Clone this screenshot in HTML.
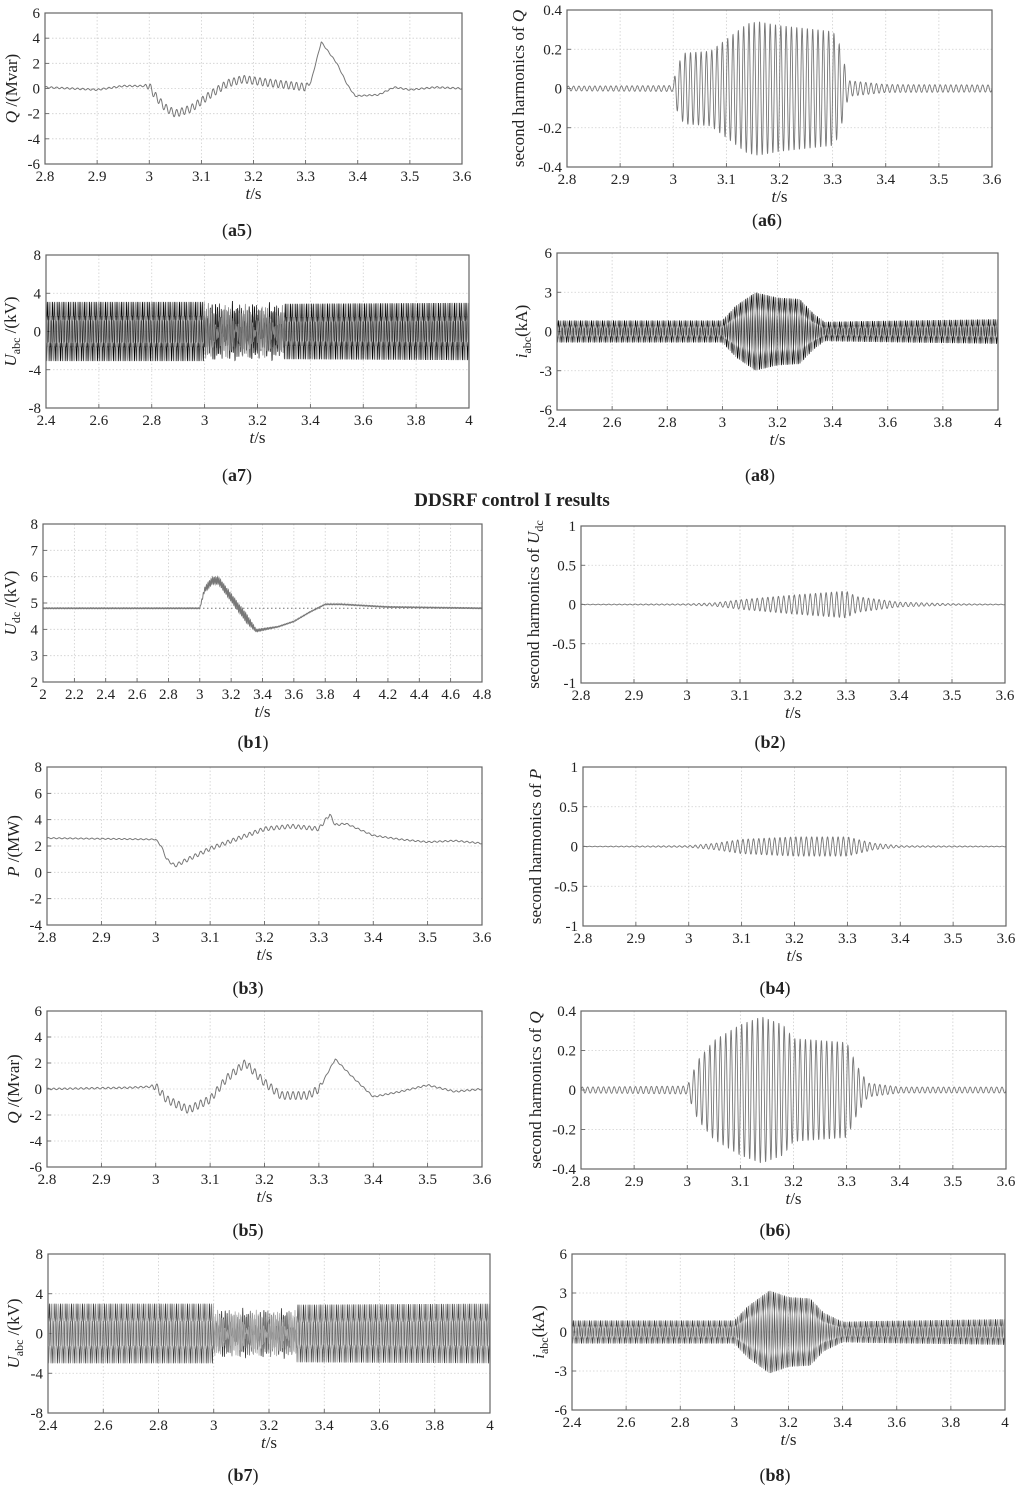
<!DOCTYPE html>
<html><head><meta charset="utf-8"><style>
html,body{margin:0;padding:0;background:#fff;}
svg{display:block;}
text{font-family:"Liberation Serif",serif;fill:#222;}
.tk{font-size:15px;}
.ax{font-size:17px;}
.pl{font-size:18px;}
</style></head><body>
<svg id="fig" width="1024" height="1490" viewBox="0 0 1024 1490" xmlns="http://www.w3.org/2000/svg">
<text x="512" y="506" text-anchor="middle" style="font-size:19px;font-weight:bold">DDSRF control I results</text>
</svg>
<script>
// ---------- data ----------
const tQ = [2.8,2.9,3.0,3.1,3.2,3.3,3.4,3.5,3.6];
const tQLabels = ["2.8","2.9","3","3.1","3.2","3.3","3.4","3.5","3.6"];
const tV = [2.4,2.6,2.8,3.0,3.2,3.4,3.6,3.8,4.0];
const tVLabels = ["2.4","2.6","2.8","3","3.2","3.4","3.6","3.8","4"];
const tB1 = [2,2.2,2.4,2.6,2.8,3,3.2,3.4,3.6,3.8,4,4.2,4.4,4.6,4.8];
const tB1Labels = ["2","2.2","2.4","2.6","2.8","3","3.2","3.4","3.6","3.8","4","4.2","4.4","4.6","4.8"];
const yQ = [-6,-4,-2,0,2,4,6];
const yQLabels = ["-6","-4","-2","0","2","4","6"];
const yH4 = [-0.4,-0.2,0,0.2,0.4];
const yH4Labels = ["-0.4","-0.2","0","0.2","0.4"];
const yU = [-8,-4,0,4,8];
const yULabels = ["-8","-4","0","4","8"];
const yI = [-6,-3,0,3,6];
const yILabels = ["-6","-3","0","3","6"];
const yUdc = [2,3,4,5,6,7,8];
const yUdcLabels = ["2","3","4","5","6","7","8"];
const yH1 = [-1,-0.5,0,0.5,1];
const yH1Labels = ["-1","-0.5","0","0.5","1"];
const yP = [-4,-2,0,2,4,6,8];
const yPLabels = ["-4","-2","0","2","4","6","8"];

// a5: Q
const a5BaseT = [2.8,2.85,2.9,2.95,3.0,3.01,3.03,3.05,3.08,3.12,3.15,3.18,3.22,3.26,3.3,3.31,3.33,3.36,3.38,3.395,3.44,3.47,3.5,3.55,3.6];
const a5BaseV = [0.1,0.0,-0.1,0.2,0.2,-0.5,-1.5,-2.0,-1.6,-0.4,0.4,0.75,0.5,0.3,0.1,0.5,3.7,2.0,0.3,-0.6,-0.5,0.1,-0.1,0.1,0.0];
const a5RipT = [2.8,2.99,3.0,3.3,3.31,3.6];
const a5RipV = [0.06,0.06,0.3,0.3,0.04,0.06];
// a6
const a6EnvT = [2.8,3.0,3.005,3.02,3.07,3.1,3.14,3.16,3.2,3.3,3.31,3.32,3.33,3.4,3.6];
const a6EnvV = [0.012,0.015,0.1,0.18,0.19,0.25,0.33,0.34,0.32,0.29,0.25,0.15,0.04,0.02,0.018];
// a7
const a7T = [2.4,2.999,3.0,3.3,3.301,4.0];
const a7Pos = [2.4,2.4,0.3,0.3,2.2,2.3];
const a7Osc = [0,0,2.6,2.4,0,0];
const a7Har = [0.7,0.7,0.4,0.4,0.7,0.7];
// a8
const a8EnvT = [2.4,3.0,3.05,3.12,3.2,3.28,3.33,3.37,3.5,4.0];
const a8EnvV = [0.65,0.65,1.8,2.8,2.4,2.3,1.2,0.55,0.6,0.75];
// b1
const b1BaseT = [2.0,3.0,3.03,3.08,3.12,3.2,3.3,3.36,3.5,3.6,3.7,3.8,3.9,4.2,4.8];
const b1BaseV = [4.8,4.8,5.5,5.85,5.85,5.2,4.4,3.95,4.1,4.3,4.65,4.95,4.95,4.85,4.8];
const b1RipT = [2.0,3.0,3.05,3.3,3.36,3.5,4.8];
const b1RipV = [0.02,0.02,0.12,0.17,0.05,0.02,0.02];
const b1Ref = 4.8;
// b2
const b2EnvT = [2.8,3.0,3.05,3.1,3.2,3.3,3.32,3.4,3.5,3.6];
const b2EnvV = [0.004,0.008,0.02,0.06,0.12,0.17,0.1,0.03,0.01,0.004];
// b3
const b3BaseT = [2.8,3.0,3.01,3.02,3.035,3.05,3.1,3.2,3.25,3.3,3.32,3.33,3.35,3.4,3.45,3.5,3.55,3.6];
const b3BaseV = [2.6,2.5,2.0,1.0,0.5,0.8,1.8,3.3,3.5,3.3,4.4,3.6,3.7,2.8,2.5,2.3,2.4,2.2];
const b3RipT = [2.8,3.0,3.05,3.3,3.35,3.6];
const b3RipV = [0.04,0.04,0.15,0.15,0.05,0.05];
// b4
const b4EnvT = [2.8,3.0,3.05,3.1,3.2,3.3,3.35,3.4,3.6];
const b4EnvV = [0.003,0.01,0.04,0.09,0.12,0.12,0.04,0.01,0.004];
// b5
const b5BaseT = [2.8,2.95,3.0,3.02,3.06,3.1,3.13,3.165,3.2,3.23,3.28,3.3,3.33,3.36,3.4,3.45,3.5,3.55,3.6];
const b5BaseV = [0.0,0.1,0.2,-0.8,-1.6,-0.8,0.8,2.0,0.5,-0.5,-0.5,0.0,2.3,1.0,-0.6,-0.2,0.3,-0.2,0.0];
const b5RipT = [2.8,2.99,3.0,3.3,3.31,3.6];
const b5RipV = [0.06,0.06,0.3,0.3,0.05,0.06];
// b6
const b6EnvT = [2.8,3.0,3.02,3.05,3.1,3.14,3.18,3.2,3.3,3.32,3.34,3.4,3.6];
const b6EnvV = [0.015,0.02,0.15,0.25,0.33,0.37,0.33,0.26,0.24,0.12,0.035,0.015,0.015];
// b7
const b7T = [2.4,2.999,3.0,3.3,3.301,4.0];
const b7Pos = [2.4,2.4,0.2,0.2,2.3,2.4];
const b7Osc = [0,0,2.1,2.1,0,0];
const b7Har = [0.6,0.6,0.3,0.3,0.6,0.6];
// b8
const b8EnvT = [2.4,3.0,3.05,3.13,3.2,3.28,3.33,3.4,3.5,4.0];
const b8EnvV = [0.7,0.7,1.8,3.0,2.5,2.4,1.3,0.6,0.65,0.8];

// ---------- helpers ----------
const NS = 'http://www.w3.org/2000/svg';
const svg = document.getElementById('fig');
function mk(tag, attrs, parent){
  const e = document.createElementNS(NS, tag);
  for (const k in attrs) e.setAttribute(k, attrs[k]);
  (parent||svg).appendChild(e);
  return e;
}
function interp(ts, vs, t){
  if (t <= ts[0]) return vs[0];
  for (let i=1;i<ts.length;i++){
    if (t <= ts[i]){ const f=(t-ts[i-1])/(ts[i]-ts[i-1]); return vs[i-1]+f*(vs[i]-vs[i-1]); }
  }
  return vs[vs.length-1];
}
function scales(p){
  const sx = v => p.x0 + (v-p.xd[0])/(p.xd[1]-p.xd[0])*(p.x1-p.x0);
  const sy = v => p.y1 - (v-p.yd[0])/(p.yd[1]-p.yd[0])*(p.y1-p.y0);
  return [sx, sy];
}
let clipN = 0;
function panel(p){
  const g = mk('g', {});
  
  
  const [sx, sy] = scales(p);
  p.xt.forEach((v,i)=>{
    const x = sx(v);
    if (i>0 && i<p.xt.length-1){
      const l = mk('line',{x1:x,x2:x,y1:p.y0,y2:p.y1,stroke:'#cfcfcf','stroke-dasharray':'1.5,2','stroke-width':0.8},g);
      
      
    }
    const t = mk('text',{x:x,y:p.y1+17,'text-anchor':'middle',class:'tk'},g);
    t.textContent = p.xl[i];
    
    
    mk('line',{x1:x,x2:x,y1:p.y1,y2:p.y1-4,stroke:'#555','stroke-width':0.8},g);
  });
  p.yt.forEach((v,i)=>{
    const y = sy(v);
    if (i>0 && i<p.yt.length-1){
      const l = mk('line',{x1:p.x0,x2:p.x1,y1:y,y2:y,stroke:'#cfcfcf','stroke-dasharray':'1.5,2','stroke-width':0.8},g);
      
      
    }
    const t = mk('text',{x:p.x0-5,y:y+5,'text-anchor':'end',class:'tk'},g);
    t.textContent = p.yl[i];
    
    
    mk('line',{x1:p.x0,x2:p.x0+4,y1:y,y2:y,stroke:'#555','stroke-width':0.8},g);
  });
  const id = 'c'+(clipN++);
  const cp = mk('clipPath',{id:id},g);
  mk('rect',{x:p.x0,y:p.y0,width:p.x1-p.x0,height:p.y1-p.y0},cp);
  const sg = mk('g',{'clip-path':'url(#'+id+')'},g);
  const fr = mk('rect',{x:p.x0,y:p.y0,width:p.x1-p.x0,height:p.y1-p.y0,fill:'none',stroke:'#666','stroke-width':1.2},g);
  
  
  const xt = mk('text',{x:(p.x0+p.x1)/2,y:p.y1+35,'text-anchor':'middle',class:'ax'},g);
  xt.innerHTML = '<tspan font-style="italic">t</tspan>/s';
  
  
  const yt = mk('text',{transform:'translate('+p.ylx+','+((p.y0+p.y1)/2)+') rotate(-90)','text-anchor':'middle',class:'ax'},g);
  yt.innerHTML = p.ylab;
  
  
  const pl = mk('text',{x:p.lx,y:p.ly,'text-anchor':'middle',class:'pl'},g);
  pl.innerHTML = '(<tspan font-weight="bold">'+p.id+'</tspan>)';
  
  
  return {g:sg, sx:sx, sy:sy};
}
function drawPath(ctx, xs, ys, color, w, name){
  let d='';
  for (let i=0;i<xs.length;i++){
    d += (i?'L':'M') + ctx.sx(xs[i]).toFixed(2) + ',' + ctx.sy(ys[i]).toFixed(2);
  }
  const path = mk('path',{d:d,fill:'none',stroke:color,'stroke-width':w},ctx.g);
  
  
}
function trendSeries(ctx,p,bT,bV,rT,rV,color,name){
  const xs=[],ys=[]; const dt=(p.xd[1]-p.xd[0])/3000;
  for(let t=p.xd[0];t<=p.xd[1]+1e-9;t+=dt){
    xs.push(t); ys.push(interp(bT,bV,t)+interp(rT,rV,t)*Math.sin(2*Math.PI*100*t));
  }
  drawPath(ctx,xs,ys,color,1,name);
}
function harmSeries(ctx,p,eT,eV,color,name){
  const xs=[],ys=[]; const dt=(p.xd[1]-p.xd[0])/4000;
  for(let t=p.xd[0];t<=p.xd[1]+1e-9;t+=dt){
    xs.push(t); ys.push(interp(eT,eV,t)*Math.sin(2*Math.PI*100*t));
  }
  drawPath(ctx,xs,ys,color,0.9,name);
}
function volt3(ctx,p,T,Pos,Osc,Har,colors,name){
  for(let k=0;k<3;k++){
    const xs=[],ys=[]; const ph=k*2*Math.PI/3;
    for(let t=p.xd[0];t<=p.xd[1]+1e-9;t+=0.0004){
      xs.push(t);
      ys.push(interp(T,Pos,t)*Math.sin(2*Math.PI*50*t-ph)+interp(T,Har,t)*Math.sin(2*Math.PI*250*t+ph)+interp(T,Osc,t)*Math.sin(2*Math.PI*150*t+ph)*Math.sin(2*Math.PI*7*t+ph));
    }
    drawPath(ctx,xs,ys,colors[k],0.7,name+'-phase-'+k);
  }
}
function curr3(ctx,p,eT,eV,colors,name){
  for(let k=0;k<3;k++){
    const xs=[],ys=[]; const ph=k*2*Math.PI/3;
    for(let t=p.xd[0];t<=p.xd[1]+1e-9;t+=0.0004){
      xs.push(t);
      ys.push(interp(eT,eV,t)*Math.sin(2*Math.PI*50*t-ph)+0.18*Math.sin(2*Math.PI*250*t+ph));
    }
    drawPath(ctx,xs,ys,colors[k],0.7,name+'-phase-'+k);
  }
}
const Qlab = '<tspan font-style="italic">Q</tspan> /(Mvar)';
const Ulab = '<tspan font-style="italic">U</tspan><tspan font-size="12" dy="4">abc</tspan><tspan dy="-4"> /(kV)</tspan>';
const Ilab = '<tspan font-style="italic">i</tspan><tspan font-size="12" dy="4">abc</tspan><tspan dy="-4">(kA)</tspan>';
const Udclab = '<tspan font-style="italic">U</tspan><tspan font-size="12" dy="4">dc</tspan><tspan dy="-4"> /(kV)</tspan>';
const grayC = '#777';

let p, c;
p={id:'a5',x0:45,x1:462,y0:13,y1:164,xd:[2.8,3.6],yd:[-6,6],xt:tQ,xl:tQLabels,yt:yQ,yl:yQLabels,ylab:Qlab,ylx:17,lx:237,ly:236};
c=panel(p); trendSeries(c,p,a5BaseT,a5BaseV,a5RipT,a5RipV,grayC,'q-curve');
p={id:'a6',x0:567,x1:992,y0:10,y1:167,xd:[2.8,3.6],yd:[-0.4,0.4],xt:tQ,xl:tQLabels,yt:yH4,yl:yH4Labels,ylab:'second harmonics of <tspan font-style="italic">Q</tspan>',ylx:524,lx:767,ly:226};
c=panel(p); harmSeries(c,p,a6EnvT,a6EnvV,grayC,'q-harmonic-curve');
p={id:'a7',x0:46,x1:469,y0:255,y1:408,xd:[2.4,4.0],yd:[-8,8],xt:tV,xl:tVLabels,yt:yU,yl:yULabels,ylab:Ulab,ylx:16,lx:237,ly:481};
c=panel(p); volt3(c,p,a7T,a7Pos,a7Osc,a7Har,['#000','#333','#888'],'uabc');
p={id:'a8',x0:557,x1:998,y0:253,y1:410,xd:[2.4,4.0],yd:[-6,6],xt:tV,xl:tVLabels,yt:yI,yl:yILabels,ylab:Ilab,ylx:527,lx:760,ly:481};
c=panel(p); curr3(c,p,a8EnvT,a8EnvV,['#000','#444','#999'],'iabc');
p={id:'b1',x0:43,x1:482,y0:524,y1:682,xd:[2,4.8],yd:[2,8],xt:tB1,xl:tB1Labels,yt:yUdc,yl:yUdcLabels,ylab:Udclab,ylx:16,lx:253,ly:748};
c=panel(p);
{ const r=mk('line',{x1:c.sx(2),x2:c.sx(4.8),y1:c.sy(b1Ref),y2:c.sy(b1Ref),stroke:'#777','stroke-dasharray':'1.5,2.5','stroke-width':1},c.g);
    }
trendSeries(c,p,b1BaseT,b1BaseV,b1RipT,b1RipV,grayC,'udc-curve');
p={id:'b2',x0:581,x1:1005,y0:526,y1:683,xd:[2.8,3.6],yd:[-1,1],xt:tQ,xl:tQLabels,yt:yH1,yl:yH1Labels,ylab:'second harmonics of <tspan font-style="italic">U</tspan><tspan font-size="12" dy="4">dc</tspan>',ylx:539,lx:770,ly:748};
c=panel(p); harmSeries(c,p,b2EnvT,b2EnvV,grayC,'udc-harmonic-curve');
p={id:'b3',x0:47,x1:482,y0:767,y1:925,xd:[2.8,3.6],yd:[-4,8],xt:tQ,xl:tQLabels,yt:yP,yl:yPLabels,ylab:'<tspan font-style="italic">P</tspan> /(MW)',ylx:19,lx:248,ly:994};
c=panel(p); trendSeries(c,p,b3BaseT,b3BaseV,b3RipT,b3RipV,grayC,'p-curve');
p={id:'b4',x0:583,x1:1006,y0:767,y1:926,xd:[2.8,3.6],yd:[-1,1],xt:tQ,xl:tQLabels,yt:yH1,yl:yH1Labels,ylab:'second harmonics of <tspan font-style="italic">P</tspan>',ylx:541,lx:775,ly:994};
c=panel(p); harmSeries(c,p,b4EnvT,b4EnvV,grayC,'p-harmonic-curve');
p={id:'b5',x0:47,x1:482,y0:1011,y1:1167,xd:[2.8,3.6],yd:[-6,6],xt:tQ,xl:tQLabels,yt:yQ,yl:yQLabels,ylab:Qlab,ylx:19,lx:248,ly:1236};
c=panel(p); trendSeries(c,p,b5BaseT,b5BaseV,b5RipT,b5RipV,grayC,'q-curve');
p={id:'b6',x0:581,x1:1006,y0:1011,y1:1169,xd:[2.8,3.6],yd:[-0.4,0.4],xt:tQ,xl:tQLabels,yt:yH4,yl:yH4Labels,ylab:'second harmonics of <tspan font-style="italic">Q</tspan>',ylx:541,lx:775,ly:1236};
c=panel(p); harmSeries(c,p,b6EnvT,b6EnvV,grayC,'q-harmonic-curve');
p={id:'b7',x0:48,x1:490,y0:1254,y1:1413,xd:[2.4,4.0],yd:[-8,8],xt:tV,xl:tVLabels,yt:yU,yl:yULabels,ylab:Ulab,ylx:19,lx:243,ly:1481};
c=panel(p); volt3(c,p,b7T,b7Pos,b7Osc,b7Har,['#333','#777','#aaa'],'uabc');
p={id:'b8',x0:572,x1:1005,y0:1254,y1:1410,xd:[2.4,4.0],yd:[-6,6],xt:tV,xl:tVLabels,yt:yI,yl:yILabels,ylab:Ilab,ylx:544,lx:775,ly:1481};
c=panel(p); curr3(c,p,b8EnvT,b8EnvV,['#333','#777','#aaa'],'iabc');
</script>
</body></html>
